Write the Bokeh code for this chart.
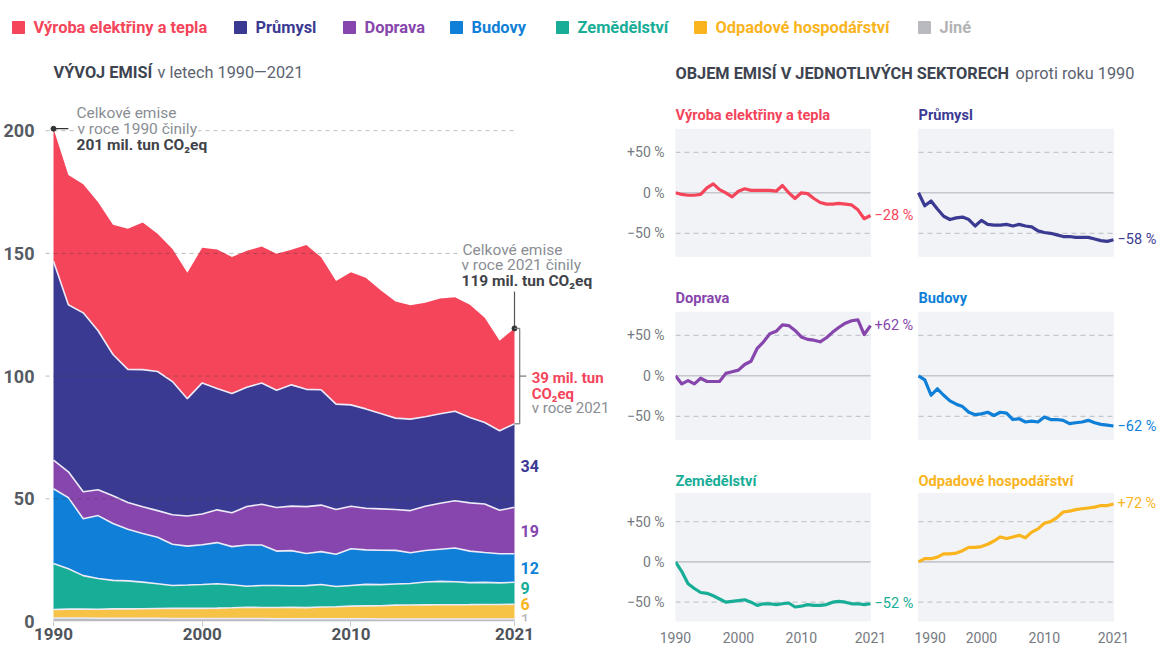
from bokeh.plotting import figure
from bokeh.layouts import column, row
from bokeh.models import Range1d, FixedTicker, ColumnDataSource
from bokeh.embed import file_html
from bokeh.resources import INLINE
from bokeh.core.properties import value
import numpy as np

FONT = value("Roboto")

# ---------------- data ----------------
years = list(range(1990, 2022))

sector_names = ["Výroba elektřiny a tepla", "Průmysl", "Doprava", "Budovy",
                "Zemědělství", "Odpadové hospodářství", "Jiné"]

# emissions in 1990 (mil. t CO2eq)
base_vyroba = 54.0
base_prumysl = 81.0
base_doprava = 11.7
base_budovy = 30.5
base_zem = 18.7
base_odpad = 3.5

# change against 1990 (%)
pct_vyroba = [0, -2, -3, -3, -2, 6, 11, 4, 0, -5, 2, 5, 3, 3, 3, 3, 2, 9, 0, -7, 0, -1, -7, -12,
              -14, -14, -13, -14, -15, -21, -32, -28]
pct_prumysl = [0, -16, -10, -20, -29, -33, -31, -30, -33, -41, -34, -39, -40, -40, -39, -41, -39,
               -41, -42, -47, -49, -50, -52, -54, -54, -55, -55, -55, -57, -59, -60, -58]
pct_doprava = [0, -10, -6, -10, -3, -7, -7, -7, 3, 5, 7, 14, 18, 34, 42, 52, 55, 63, 62, 56, 48,
               45, 44, 42, 47, 54, 60, 65, 68, 69, 51, 62]
pct_budovy = [0, -5, -24, -16, -24, -31, -35, -38, -45, -48, -47, -45, -49, -45, -46, -54, -53,
              -57, -56, -57, -51, -54, -54, -55, -59, -58, -57, -55, -58, -60, -61, -62]
pct_zem = [0, -12, -27, -33, -38, -39, -42, -46, -50, -49, -48, -47, -50, -54, -52, -52, -53, -52,
           -51, -56, -55, -53, -54, -54, -53, -50, -49, -50, -52, -52, -53, -52]
pct_odpad = [0, 4, 4, 6, 10, 10, 11, 14, 18, 18, 19, 22, 26, 31, 29, 31, 33, 30, 37, 41, 48, 50,
             55, 62, 63, 65, 66, 67, 68, 70, 70, 72]
# "Jiné" (mil. t CO2eq)
abs_jine = [1.4, 1.4, 1.4, 1.3, 1.3, 1.3, 1.3, 1.3, 1.2, 1.2, 1.2, 1.2, 1.2, 1.2, 1.2, 1.1, 1.1,
            1.1, 1.1, 1.1, 1.1, 1.1, 1.0, 1.0, 1.0, 1.0, 1.0, 1.0, 1.0, 1.0, 1.0, 1.0]

x_ticks_years = [1990, 2000, 2010, 2021]
y_ticks_left = [0, 50, 100, 150, 200]
pct_ticks = [-50, 0, 50]

# ---------------- styles ----------------
C_RED = "#f4455b"
C_NAVY = "#3b3a92"
C_PURPLE = "#8746ad"
C_BLUE = "#0f7fd8"
C_TEAL = "#17ad97"
C_YELLOW_AREA = "#f6c346"
C_YELLOW = "#f9b41e"
C_GRAY = "#b9babf"
C_GRAY_TXT = "#b3b3b6"
C_DARK = "#3d4450"
C_MID = "#5c6370"
C_ANN = "#8a8d93"


def absolute(base, pct):
    return base * (1 + np.array(pct, dtype=float) / 100.0)


vals = {
    "vyroba": absolute(base_vyroba, pct_vyroba),
    "prumysl": absolute(base_prumysl, pct_prumysl),
    "doprava": absolute(base_doprava, pct_doprava),
    "budovy": absolute(base_budovy, pct_budovy),
    "zem": absolute(base_zem, pct_zem),
    "odpad": absolute(base_odpad, pct_odpad),
    "jine": np.array(abs_jine, dtype=float),
}
stack_keys = ["jine", "odpad", "zem", "budovy", "doprava", "prumysl", "vyroba"]
stack_colors = [C_GRAY, C_YELLOW_AREA, C_TEAL, C_BLUE, C_PURPLE, C_NAVY, C_RED]
text_colors = {"jine": C_GRAY_TXT, "odpad": C_YELLOW, "zem": C_TEAL, "budovy": C_BLUE,
               "doprava": C_PURPLE, "prumysl": C_NAVY, "vyroba": C_RED}

cum = np.cumsum(np.array([vals[k] for k in stack_keys]), axis=0)
total = cum[-1]


def txt(p, x, y, s, color, size, bold=False, align="left", xo=0, yo=0, bg=None):
    kw = {}
    if bg is not None:
        kw = dict(background_fill_color=bg, padding=1)
    p.text(x=[x], y=[y], text=[s], text_color=color, text_font=FONT, text_font_size=size,
           text_font_style="bold" if bold else "normal", text_align=align,
           text_baseline="middle", x_offset=xo, y_offset=yo, **kw)


# ---------------- top strip: legend + section titles ----------------
top = figure(width=1158, height=100, x_range=Range1d(0, 1158), y_range=Range1d(100, 0),
             output_backend="svg", toolbar_location=None, x_axis_location=None,
             y_axis_location=None, min_border=0, outline_line_color=None)
top.grid.visible = False
legend_keys = ["vyroba", "prumysl", "doprava", "budovy", "zem", "odpad", "jine"]
legend_x = [18, 240, 349, 456, 562, 700, 924]
legend_sq = {"vyroba": C_RED, "prumysl": C_NAVY, "doprava": C_PURPLE, "budovy": C_BLUE,
             "zem": C_TEAL, "odpad": C_YELLOW, "jine": C_GRAY}
for k, name, lx in zip(legend_keys, sector_names, legend_x):
    top.scatter([lx], [27], marker="square", size=12, color=legend_sq[k])
    txt(top, lx + 15, 27, name, text_colors[k], "16.4px", bold=True)
txt(top, 53, 72, "VÝVOJ EMISÍ", C_DARK, "16.3px", bold=True)
txt(top, 157, 72, "v letech 1990—2021", C_MID, "16.3px")
txt(top, 675, 73, "OBJEM EMISÍ V JEDNOTLIVÝCH SEKTORECH", C_DARK, "16.3px", bold=True)
txt(top, 1015, 73, "oproti roku 1990", C_MID, "16.3px")

# ---------------- left: stacked areas ----------------
PX_X = 461 / 31
x0 = 1990 - 8 / PX_X
x1 = 2021 + 96 / PX_X
left = figure(width=610, height=545, x_range=Range1d(x0, x1), y_range=Range1d(0, 212.3),
              output_backend="svg", toolbar_location=None, min_border_left=45,
              min_border_right=0, min_border_top=0, min_border_bottom=24,
              outline_line_color=None)
left.grid.visible = False
src = ColumnDataSource(dict(year=years, **{k: vals[k] for k in stack_keys}))
left.varea_stack(stackers=stack_keys, x="year", color=stack_colors, source=src)
for i in range(len(stack_keys) - 1):
    left.line(years, cum[i], line_color="#ecebf7", line_width=1.6)

grid_levels = [50, 100, 150, 200]
left.segment(x0=[x0] * 4, y0=grid_levels, x1=[2021] * 4, y1=grid_levels, line_color="#3a3a3a",
             line_alpha=0.35, line_dash="4 4", line_width=1)

left.yaxis.ticker = FixedTicker(ticks=y_ticks_left)
left.yaxis.axis_line_color = None
left.yaxis.major_tick_line_color = None
left.yaxis.minor_tick_line_color = None
left.yaxis.major_label_standoff = 5
left.yaxis.major_label_text_font = "Roboto"
left.yaxis.major_label_text_font_size = "18px"
left.yaxis.major_label_text_font_style = "bold"
left.yaxis.major_label_text_color = "#565b63"
left.xaxis.ticker = FixedTicker(ticks=x_ticks_years)
left.xaxis.axis_line_color = None
left.xaxis.major_tick_line_color = "#c8c8c8"
left.xaxis.major_tick_out = 5
left.xaxis.major_tick_in = 0
left.xaxis.minor_tick_line_color = None
left.xaxis.major_label_standoff = 1
left.xaxis.major_label_text_font = "Roboto"
left.xaxis.major_label_text_font_size = "17px"
left.xaxis.major_label_text_font_style = "bold"
left.xaxis.major_label_text_color = "#4f545b"

# 1990 total annotation
t90 = total[0]
left.segment(x0=[1990], y0=[t90], x1=[1990 + 1.0], y1=[t90], line_color="#333", line_width=1.2)
left.scatter([1990], [t90], size=5, color="#333")
txt(left, 1990, t90, "v roce 1990 činily", C_ANN, "15.5px", xo=23, yo=0, bg="white")
txt(left, 1990, t90, "Celkové emise", C_ANN, "15.5px", xo=23, yo=-16)
txt(left, 1990, t90, f"{round(t90)} mil. tun CO₂eq", "#3f4349", "15.5px", bold=True,
    xo=23, yo=16)

# 2021 total annotation
t21 = total[-1]
left.segment(x0=[2021], y0=[t21], x1=[2021], y1=[t21 + 15], line_color="#555", line_width=1.2)
left.scatter([2021], [t21], size=5, color="#333")
txt(left, 2021, t21, "Celkové emise", C_ANN, "15.5px", xo=-53, yo=-78, bg="white")
txt(left, 2021, t21, "v roce 2021 činily", C_ANN, "15.5px", xo=-53, yo=-63)
txt(left, 2021, t21, f"{round(t21)} mil. tun CO₂eq", "#3f4349", "15.5px", bold=True,
    xo=-53, yo=-47)

# bracket for Výroba in 2021
seg_lo = cum[-2][-1]
seg_mid = (seg_lo + t21) / 2
xb = 2021 + 0.35
left.segment(x0=[xb, 2021, 2021, xb], y0=[seg_lo, t21, seg_lo, seg_mid],
             x1=[xb, xb, xb, xb + 0.45], y1=[t21, t21, seg_lo, seg_mid],
             line_color="#777", line_width=1.2)
txt(left, xb, seg_mid, f"{round(vals['vyroba'][-1])} mil. tun", C_RED, "15px", bold=True,
    xo=12, yo=2)
txt(left, xb, seg_mid, "CO₂eq", C_RED, "15px", bold=True, xo=12, yo=18)
txt(left, xb, seg_mid, "v roce 2021", C_ANN, "15px", xo=12, yo=32)

# 2021 values of the other sectors
prev = None
for i, k in enumerate(stack_keys[:-1]):
    lo = cum[i - 1][-1] if i > 0 else 0.0
    mid = (lo + cum[i][-1]) / 2
    if prev is not None:
        mid = max(mid, prev + 6.5)
    prev = mid
    txt(left, 2021, mid, f"{round(vals[k][-1])}", text_colors[k], "16px",
        bold=(k != "jine"), xo=6)

# ---------------- right: small multiples ----------------
PX_P = 195 / 31


def panel(name, pct, color, left_col, bottom_row):
    if left_col:
        w = 304
        xr = Range1d(1990, 2021 + 44 / PX_P)
        mbl = 65
    else:
        w = 244
        xr = Range1d(1990 - 4 / PX_P, 2021 + 45 / PX_P)
        mbl = 0
    if bottom_row:
        h = 179
        yr = Range1d(-74, 118.5)
        bg_lo, bg_hi, t_y = -74, 85, 101
        mbb = 23
    else:
        h = 183
        yr = Range1d(-112, 114)
        bg_lo, bg_hi, t_y = -78.5, 78.5, 95.5
        mbb = 0
    p = figure(width=w, height=h, x_range=xr, y_range=yr, output_backend="svg",
               toolbar_location=None, min_border_left=mbl, min_border_right=0,
               min_border_top=0, min_border_bottom=mbb, outline_line_color=None,
               x_axis_location="below" if bottom_row else None,
               y_axis_location="left" if left_col else None)
    p.grid.visible = False
    p.quad(left=[1990], right=[2021], bottom=[bg_lo], top=[bg_hi], color="#f1f3f6")
    p.segment(x0=[1990, 1990], y0=[50, -50], x1=[2021, 2021], y1=[50, -50],
              line_color="#c4c8ce", line_width=1.2, line_dash="5 4")
    p.segment(x0=[1990], y0=[0], x1=[2021], y1=[0], line_color="#c4c8ce", line_width=1.6)
    p.line(years, pct, line_color=color, line_width=3.2, line_join="round")
    last = pct[-1]
    lab = ("+" if last > 0 else "−") + f"{abs(last)} %"
    txt(p, 2021, last, lab, color, "14.5px", xo=4)
    txt(p, 1990, t_y, name, color, "14.6px", bold=True)
    if left_col:
        p.yaxis.ticker = FixedTicker(ticks=pct_ticks)
        p.yaxis.major_label_overrides = {-50: "−50 %", 0: "0 %", 50: "+50 %"}
        p.yaxis.axis_line_color = None
        p.yaxis.major_tick_line_color = None
        p.yaxis.minor_tick_line_color = None
        p.yaxis.major_label_standoff = 5
        p.yaxis.major_label_text_font = "Roboto"
        p.yaxis.major_label_text_font_size = "14px"
        p.yaxis.major_label_text_color = "#767a80"
    if bottom_row:
        p.xaxis.ticker = FixedTicker(ticks=x_ticks_years)
        p.xaxis.axis_line_color = None
        p.xaxis.major_tick_line_color = None
        p.xaxis.minor_tick_line_color = None
        p.xaxis.major_label_standoff = 4
        p.xaxis.major_label_text_font = "Roboto"
        p.xaxis.major_label_text_font_size = "14px"
        p.xaxis.major_label_text_color = "#767a80"
    return p


p1 = panel(sector_names[0], pct_vyroba, C_RED, True, False)
p2 = panel(sector_names[1], pct_prumysl, C_NAVY, False, False)
p3 = panel(sector_names[2], pct_doprava, C_PURPLE, True, False)
p4 = panel(sector_names[3], pct_budovy, C_BLUE, False, False)
p5 = panel(sector_names[4], pct_zem, C_TEAL, True, True)
p6 = panel(sector_names[5], pct_odpad, C_YELLOW, False, True)

right = column(row(p1, p2), row(p3, p4), row(p5, p6))
layout = column(top, row(left, right))

open("out.html", "w").write(file_html(layout, INLINE))
